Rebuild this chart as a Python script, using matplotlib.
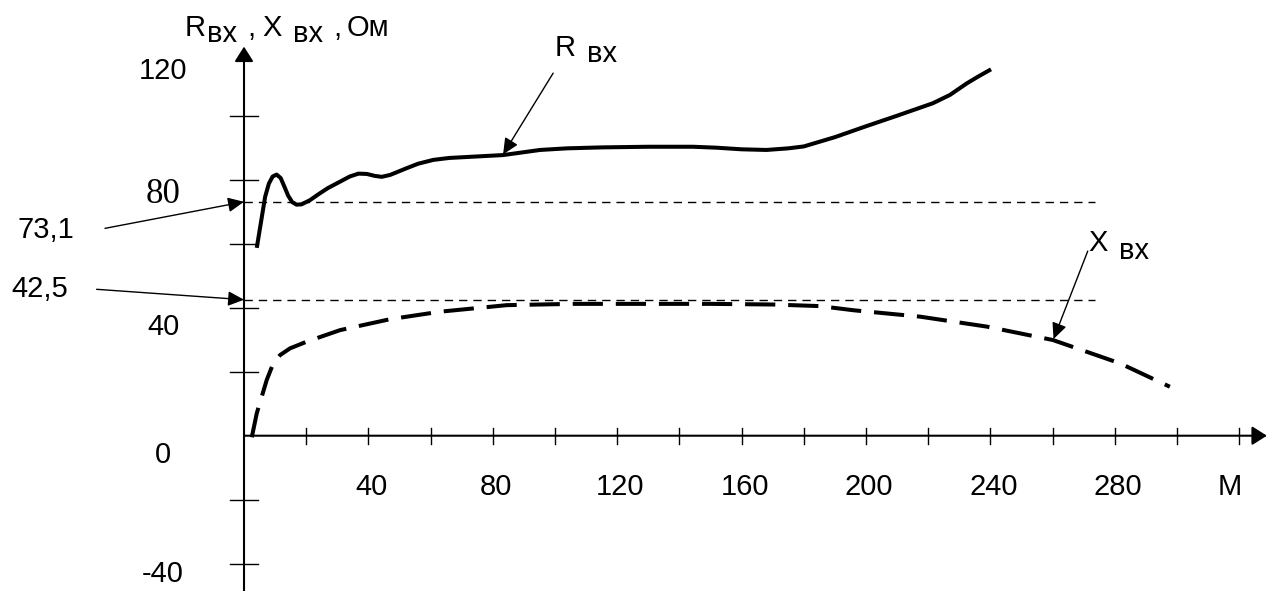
import matplotlib
matplotlib.use('Agg')
import numpy as np
import matplotlib.pyplot as plt

plt.rcParams['font.family'] = ['Liberation Sans', 'DejaVu Sans']

# R вх (solid) readings
m_r = [4.1, 5.5, 6.8, 8.0, 9.2, 10.5, 11.8, 13.0, 14.2, 15.5, 16.9, 18.5, 21.2,
       24, 27, 30.9, 34, 36.8, 39.5, 42, 44.3, 47, 52.3, 56, 60.9, 66, 73.6,
       83.3, 90, 95.2, 103.8, 115, 130, 144.4, 152, 160, 168, 175, 180, 190,
       200, 210, 221.5, 227, 232.4, 236, 240.2]
r_vx = [58.7, 67, 74.7, 78.8, 81.0, 81.6, 80.5, 77.8, 75.0, 73.0, 72.2, 72.3, 73.6,
        75.5, 77.4, 79.4, 81.0, 81.9, 81.8, 81.2, 80.9, 81.5, 83.6, 85.0, 86.2, 86.8, 87.2,
        87.7, 88.6, 89.3, 89.8, 90.1, 90.3, 90.3, 90.0, 89.5, 89.3, 89.8, 90.4, 93.3,
        96.7, 100.0, 103.9, 106.5, 110.1, 112.2, 114.5]

# X вх (dashed) readings
m_x = [2.5, 4.1, 5.7, 7.3, 9.4, 11.6, 14.8, 20.2, 30.9, 46.9, 63.0, 84.5, 105.8,
       127.3, 150, 170, 185.2, 196, 217.4, 238.8, 260.1, 281.7, 297.7]
x_vx = [-0.5, 7.0, 12.2, 17.4, 22.6, 25.2, 27.3, 29.4, 33.0, 36.4, 38.75, 40.8, 41.2,
        41.2, 41.2, 41.0, 40.5, 39.2, 37.2, 34.1, 29.9, 22.6, 15.3]

r_ref = 73.1
x_ref = 42.5
ref_end = 273.6

x_ticks = np.arange(20, 321, 20)
x_labels = [40, 80, 120, 160, 200, 240, 280]
y_ticks = [-40, -20, 20, 40, 60, 80, 100]
y_labels = [120, 80, 40, 0, -40]

fig = plt.figure(figsize=(12.77, 5.91), dpi=100)
ax = fig.add_axes([0, 0, 1, 1])
ax.set_xlim(-78.46, 332.15)
ax.set_ylim(-48.53, 136.16)
ax.axis('off')

fs = 21
arrow_ax = dict(arrowstyle='-|>,head_length=0.6,head_width=0.38', mutation_scale=15,
                color='k', lw=1.5, shrinkA=0, shrinkB=0)
arrow_thin = dict(arrowstyle='-|>,head_length=0.65,head_width=0.3', mutation_scale=15,
                  color='k', lw=1.0, shrinkA=0, shrinkB=0)

# axes with arrows
ax.annotate('', xy=(0, 121.6), xytext=(0, -48.5), arrowprops=arrow_ax)
ax.annotate('', xy=(328.9, 0), xytext=(0, 0), arrowprops=arrow_ax)

for t in y_ticks:
    ax.plot([-4.5, 4.5], [t, t], 'k', lw=1.0)
for t in x_ticks:
    ax.plot([t, t], [-2.5, 2.5], 'k', lw=1.0)

# tick labels
for v in y_labels:
    if v == 80:
        ax.text(-26, v - 7.3, str(v), fontsize=25, family='Liberation Serif',
                ha='center', va='baseline')
    elif v == -40:
        ax.text(-26, v - 5.7, str(v), fontsize=fs, ha='center', va='baseline')
    else:
        ax.text(-26, v - 8.5, str(v), fontsize=fs, ha='center', va='baseline')
for v in x_labels:
    ax.text(v + 1, -18.5, str(v), fontsize=fs, ha='center', va='baseline')
ax.text(317, -18.5, 'M', fontsize=fs, ha='center', va='baseline')

# axis title
ax.text(-19.0, 124.9, 'R', fontsize=fs, va='baseline')
ax.text(-11.9, 123.0, 'вх', fontsize=fs, va='baseline')
ax.text(1.0, 124.9, ',', fontsize=fs, va='baseline')
ax.text(5.8, 124.9, 'X', fontsize=fs, va='baseline')
ax.text(15.8, 123.0, 'вх', fontsize=fs, va='baseline')
ax.text(28.6, 124.9, ',', fontsize=fs, va='baseline')
ax.text(33.1, 124.9, 'Ом', fontsize=fs, va='baseline')

# reference levels
ax.plot([0, ref_end], [r_ref, r_ref], 'k', lw=1.0, dashes=(6, 4.3))
ax.plot([0, ref_end], [x_ref, x_ref], 'k', lw=1.0, dashes=(6, 4.3))
ax.text(-63.7, 61.8, '73,1', fontsize=fs, ha='center', va='baseline')
ax.text(-65.6, 43.3, '42,5', fontsize=fs, ha='center', va='baseline')
ax.annotate('', xy=(0, r_ref), xytext=(-44.7, 64.8), arrowprops=arrow_thin)
ax.annotate('', xy=(0, x_ref), xytext=(-47.4, 45.75), arrowprops=arrow_thin)

# curves
ax.plot(m_r, r_vx, 'k', lw=2.9, solid_joinstyle='round', solid_capstyle='butt')
ax.plot(m_x, x_vx, 'k', lw=2.9, dashes=(7.5, 3.2))

# curve labels
ax.text(100.0, 118.7, 'R', fontsize=fs, va='baseline')
ax.text(110.3, 116.8, 'вх', fontsize=fs, va='baseline')
ax.annotate('', xy=(83.3, 87.9), xytext=(99.4, 113.3), arrowprops=arrow_thin)
ax.text(271.4, 57.6, 'X', fontsize=fs, va='baseline')
ax.text(281.4, 55.2, 'вх', fontsize=fs, va='baseline')
ax.annotate('', xy=(260.3, 30.2), xytext=(271.3, 57.7), arrowprops=arrow_thin)

fig.savefig('out.png', dpi=100)
